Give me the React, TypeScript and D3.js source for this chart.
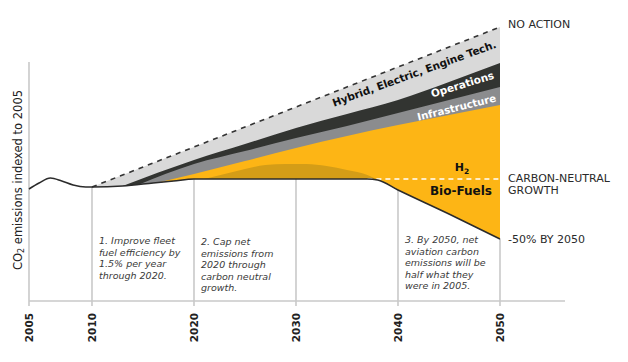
import React from "react";
import * as d3 from "d3";

// ---- data (CO2 index, 2005 = 100) ----
const baseYears = [2005, 2005.8, 2006.7, 2007.6, 2008.5, 2009.5, 2010, 2013, 2016, 2018, 2020, 2030, 2037, 2038, 2040, 2045, 2050];
const baseValues = [100, 106, 111, 108, 104, 102, 102, 103, 106, 108, 110, 110, 110, 109, 99, 75, 50];

const noActionYears = [2010, 2050];
const noActionValues = [102, 262];

const techYears = [2013, 2020, 2025, 2030, 2035, 2040, 2045, 2050];
const techTopValues = [103, 129, 145, 161, 175, 189, 207, 226]; // top of "Operations" band

const opsYears = [2014.5, 2020, 2025, 2030, 2035, 2040, 2045, 2050];
const opsTopValues = [104, 125, 138, 151, 163, 176, 189, 202]; // top of "Infrastructure" band

const infraYears = [2016.5, 2020, 2025, 2030, 2035, 2040, 2045, 2050];
const infraTopValues = [106.5, 115, 128, 141, 153, 164, 174, 184]; // top of fuels band

const humpYears = [2021, 2023, 2025, 2027, 2029, 2031, 2033, 2035, 2037, 2038];
const humpValues = [110, 115, 120, 124, 125, 125, 123, 119, 114, 109];

const capYears = [2037, 2050];
const capValues = [110, 110];

const tickYears = [2005, 2010, 2020, 2030, 2040, 2050];

const notes = [
  { year: 2010, lines: ["1. Improve fleet", "fuel efficiency by", "1.5% per year", "through 2020."], top: 244 },
  { year: 2020, lines: ["2. Cap net", "emissions from", "2020 through", "carbon neutral", "growth."], top: 245 },
  { year: 2040, lines: ["3. By 2050, net", "aviation carbon", "emissions will be", "half what they", "were in 2005."], top: 243 },
];

const FONT = "'DejaVu Sans', Verdana, sans-serif";

export default function App() {
  const W = 628, H = 362;
  const x = d3.scaleLinear().domain([2005, 2010, 2050]).range([29, 92, 500]);
  const y = d3.scaleLinear().domain([50, 100]).range([239, 189]);
  const axisY = 301;
  const axisTop = 62;
  const tickBottom = 306;

  const pts = (ys: number[], vs: number[]) => ys.map((yr, i) => [yr, vs[i]] as [number, number]);
  const base = pts(baseYears, baseValues);

  const line = d3.line<[number, number]>().x(d => x(d[0])).y(d => y(d[1])).curve(d3.curveMonotoneX);
  const lineLin = d3.line<[number, number]>().x(d => x(d[0])).y(d => y(d[1]));
  const areaDown = (curve: any) =>
    d3.area<[number, number]>().x(d => x(d[0])).y0(y(-20)).y1(d => y(d[1])).curve(curve);

  const clipArea = d3.area<[number, number]>()
    .x(d => x(d[0])).y0(0).y1(d => y(d[1])).curve(d3.curveMonotoneX);

  const baseAt = (yr: number) => baseValues[baseYears.indexOf(yr)];

  return (
    <svg width={W} height={H} style={{ position: "absolute", left: 0, top: 0, background: "#fff" }}
      fontFamily={FONT}>
      <defs>
        <clipPath id="aboveBase">
          <path d={clipArea(base.filter(d => d[0] >= 2010)) || ""} />
        </clipPath>
      </defs>

      {/* grid / axes */}
      <line x1={x(2005)} x2={565} y1={axisY} y2={axisY} stroke="#c9c9c9" strokeWidth={1.6} />
      {tickYears.map((yr, i) => (
        <line key={yr} x1={x(yr)} x2={x(yr)} y1={i === 0 ? axisTop : y(baseAt(yr))} y2={tickBottom}
          stroke="#c9c9c9" strokeWidth={1.6} />
      ))}
      {tickYears.map(yr => (
        <text key={"t" + yr} transform={`translate(${x(yr)},${313}) rotate(-90)`} textAnchor="end"
          dominantBaseline="central" fontSize={10.5} fontWeight="bold" fill="#222">{yr}</text>
      ))}

      {/* stacked wedges */}
      <g clipPath="url(#aboveBase)">
        <path d={areaDown(d3.curveLinear)(pts(noActionYears, noActionValues)) || ""} fill="#d9d9d9" />
        <path d={areaDown(d3.curveMonotoneX)(pts(techYears, techTopValues)) || ""} fill="#323431" />
        <path d={areaDown(d3.curveMonotoneX)(pts(opsYears, opsTopValues)) || ""} fill="#8b8c8e" />
        <path d={areaDown(d3.curveMonotoneX)(pts(infraYears, infraTopValues)) || ""} fill="#fdb515" />
        <path d={areaDown(d3.curveMonotoneX)(pts(humpYears, humpValues)) || ""} fill="#d49d17" />
      </g>

      {/* lines */}
      <path d={lineLin(pts(noActionYears, noActionValues)) || ""} fill="none" stroke="#333" strokeWidth={1.6}
        strokeDasharray="5,5" />
      <path d={lineLin(pts(capYears, capValues)) || ""} fill="none" stroke="#fff" strokeWidth={1.6}
        strokeDasharray="5,4" />
      <path d={line(base) || ""} fill="none" stroke="#2b2b2b" strokeWidth={1.6} />

      {/* band labels */}
      <text transform="translate(415.5,77) rotate(-20)" textAnchor="middle" fontSize={10.5} fontWeight="bold"
        fill="#111">Hybrid, Electric, Engine Tech.</text>
      <text transform="translate(463.5,88) rotate(-17)" textAnchor="middle" fontSize={10.5} fontWeight="bold"
        fill="#fff">Operations</text>
      <text transform="translate(457.5,111) rotate(-14)" textAnchor="middle" fontSize={10.2} fontWeight="bold"
        fill="#fff">Infrastructure</text>
      <text x={462} y={171} textAnchor="middle" fontSize={11} fontWeight="bold" fill="#111">
        H<tspan fontSize={7.5} dy={3}>2</tspan>
      </text>
      <text x={492} y={195} textAnchor="end" fontSize={12} fontWeight="bold" fill="#111">Bio-Fuels</text>

      {/* right labels */}
      <g fontSize={11} fill="#2a2a2a">
        <text x={508} y={28}>NO ACTION</text>
        <text x={508} y={182}>CARBON-NEUTRAL</text>
        <text x={508} y={194}>GROWTH</text>
        <text x={508} y={243}>-50% BY 2050</text>
      </g>

      {/* annotations */}
      {notes.map(n => (
        <text key={n.year} x={x(n.year) + 7} y={n.top} fontSize={9.5} fontStyle="italic" fill="#3a3a3a">
          {n.lines.map((l, i) => (
            <tspan key={i} x={x(n.year) + 7} dy={i === 0 ? 0 : 11.6}>{l}</tspan>
          ))}
        </text>
      ))}

      {/* y title */}
      <text transform="translate(18,180) rotate(-90)" textAnchor="middle" dominantBaseline="central"
        fontSize={11.5} fill="#222">
        CO<tspan fontSize={8} dy={3}>2</tspan><tspan dy={-3}> emissions indexed to 2005</tspan>
      </text>
    </svg>
  );
}
